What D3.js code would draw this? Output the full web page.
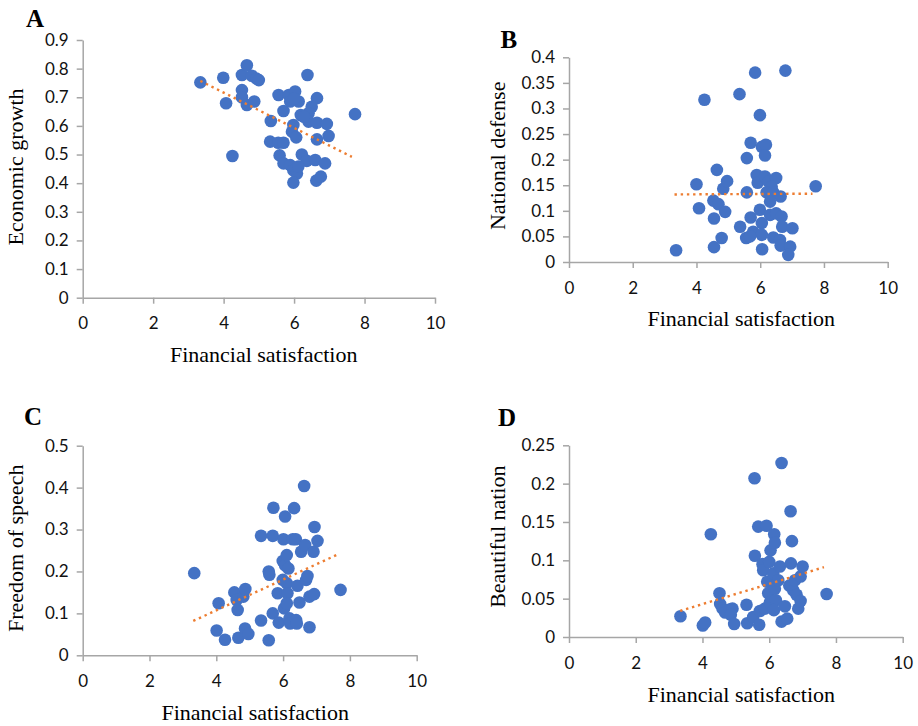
<!DOCTYPE html>
<html><head><meta charset="utf-8">
<script src="https://cdn.jsdelivr.net/npm/d3@7/dist/d3.min.js"></script>
<style>body{margin:0;background:#fff}svg{display:block}</style>
</head><body>
<svg id="c" width="918" height="726"></svg>
<script>
// ---------- DATA ----------
const xTicks = [0, 2, 4, 6, 8, 10];
const yTicksA = [0, 0.1, 0.2, 0.3, 0.4, 0.5, 0.6, 0.7, 0.8, 0.9];
const yTicksB = [0, 0.05, 0.1, 0.15, 0.2, 0.25, 0.3, 0.35, 0.4];
const yTicksC = [0, 0.1, 0.2, 0.3, 0.4, 0.5];
const yTicksD = [0, 0.05, 0.1, 0.15, 0.2, 0.25];

const xA = [3.34,3.99,4.07,4.25,4.52,4.66,4.80,4.93,5.00,4.52,4.52,4.66,4.87,5.56,5.34,5.70,5.85,6.03,6.13,5.89,6.38,6.65,6.50,6.41,6.19,5.98,5.94,6.06,6.41,6.65,6.93,6.98,6.65,7.73,5.32,5.55,5.70,5.59,5.70,5.89,5.98,6.08,5.98,6.22,6.36,6.12,6.60,6.88,6.63,6.76,6.28,6.00];
const yA = [0.752,0.768,0.679,0.495,0.778,0.812,0.775,0.765,0.760,0.725,0.700,0.673,0.685,0.708,0.617,0.652,0.708,0.720,0.685,0.685,0.778,0.697,0.667,0.644,0.638,0.603,0.580,0.560,0.615,0.611,0.607,0.565,0.553,0.641,0.545,0.541,0.541,0.497,0.469,0.463,0.445,0.434,0.402,0.500,0.478,0.458,0.481,0.469,0.409,0.423,0.632,0.695];
const trendA = [[3.34, 0.757], [7.64, 0.492]];

const xB = [3.36,4.00,4.08,4.25,4.53,4.55,4.55,4.64,4.69,4.79,4.84,4.90,4.96,5.35,5.37,5.58,5.58,5.56,5.70,5.70,5.84,5.89,5.92,5.99,6.05,6.18,6.15,6.15,6.26,6.50,6.36,6.20,6.41,6.64,6.31,5.99,6.31,6.50,6.67,6.05,5.78,6.05,5.68,6.41,6.62,6.64,6.69,7.01,6.94,6.88,6.06,6.79,7.74];
const yB = [0.023,0.152,0.105,0.317,0.120,0.085,0.029,0.180,0.113,0.047,0.143,0.098,0.158,0.328,0.069,0.203,0.136,0.047,0.233,0.087,0.370,0.170,0.155,0.287,0.225,0.229,0.208,0.167,0.157,0.164,0.147,0.136,0.136,0.128,0.118,0.102,0.092,0.095,0.089,0.076,0.059,0.053,0.050,0.048,0.043,0.032,0.069,0.066,0.030,0.014,0.025,0.374,0.148];
const trendB = [[3.31, 0.132], [7.64, 0.1335]];

const xC = [3.34,4.01,4.07,4.26,4.54,4.61,4.64,4.66,4.81,4.87,4.86,4.96,5.34,5.34,5.57,5.59,5.57,5.69,5.71,5.69,5.84,5.87,5.99,6.01,5.99,6.03,6.06,6.06,6.11,6.16,6.11,6.13,6.11,6.19,6.21,6.29,6.33,6.38,6.39,6.41,6.43,6.49,6.54,6.63,6.66,6.69,6.73,6.79,6.79,6.91,6.94,6.93,7.03,7.72];
const yC = [0.196,0.059,0.124,0.037,0.150,0.132,0.108,0.042,0.140,0.158,0.064,0.051,0.083,0.285,0.200,0.192,0.036,0.285,0.352,0.100,0.148,0.078,0.225,0.277,0.180,0.112,0.331,0.215,0.239,0.207,0.172,0.148,0.124,0.088,0.076,0.277,0.351,0.277,0.084,0.076,0.166,0.126,0.247,0.404,0.263,0.180,0.189,0.140,0.067,0.247,0.306,0.146,0.273,0.156];
const trendC = [[3.31, 0.082], [7.62, 0.240]];

const xD = [3.34,4.01,4.08,4.25,4.51,4.53,4.60,4.68,4.83,4.90,4.85,4.95,5.32,5.34,5.52,5.56,5.57,5.67,5.70,5.72,5.80,5.82,5.92,5.94,5.97,6.00,5.87,6.02,6.04,6.12,6.15,6.17,6.17,6.20,6.14,6.27,6.32,6.37,6.37,6.47,6.54,6.60,6.64,6.65,6.68,6.72,6.77,6.82,6.87,6.94,6.94,7.00,7.72];
const yD = [0.027,0.015,0.019,0.134,0.057,0.043,0.037,0.032,0.036,0.037,0.029,0.017,0.042,0.018,0.026,0.207,0.106,0.144,0.016,0.034,0.095,0.087,0.145,0.072,0.057,0.098,0.037,0.045,0.113,0.083,0.134,0.123,0.063,0.048,0.035,0.074,0.092,0.227,0.020,0.040,0.024,0.067,0.164,0.096,0.125,0.061,0.074,0.055,0.037,0.047,0.079,0.092,0.056];
const trendD = [[3.33, 0.034], [7.64, 0.091]];

const xTitle = "Financial satisfaction";

// ---------- LAYOUT ----------
const panels = [
  {letter:"A", xs:xA, ys:yA, trend:trendA, yTicks:yTicksA, yTitle:"Economic growth",
   px:[82.7,435], py:[297.7,40], letterPos:[26,27], xTitlePos:[263.7,361.7], yTitlePos:[23,167]},
  {letter:"B", xs:xB, ys:yB, trend:trendB, yTicks:yTicksB, yTitle:"National defense",
   px:[569,887.7], py:[262,57.3], letterPos:[500.5,48], xTitlePos:[741.3,326], yTitlePos:[504.8,155.8]},
  {letter:"C", xs:xC, ys:yC, trend:trendC, yTicks:yTicksC, yTitle:"Freedom of speech",
   px:[82.7,416.7], py:[655.3,445.7], letterPos:[24,425], xTitlePos:[255.2,720], yTitlePos:[23,548.3]},
  {letter:"D", xs:xD, ys:yD, trend:trendD, yTicks:yTicksD, yTitle:"Beautiful nation",
   px:[569,902.7], py:[637,445.3], letterPos:[498,425.7], xTitlePos:[741.3,702], yTitlePos:[504.8,536.7]}
];

const svg = d3.select("#c");
const AX = "#a6a6a6", DOT = "#4472c4", TREND = "#ed7d31";
const serif = "'Liberation Serif','Times New Roman',serif";
const sans = "Lato,'Liberation Sans',sans-serif";

panels.forEach(p => {
  const yMax = p.yTicks[p.yTicks.length - 1];
  const x = d3.scaleLinear().domain([0, 10]).range(p.px);
  const y = d3.scaleLinear().domain([0, yMax]).range(p.py);
  const g = svg.append("g");

  const gx = g.append("g").attr("transform", `translate(0,${p.py[0]})`)
    .call(d3.axisBottom(x).tickValues(xTicks).tickSize(6).tickSizeOuter(0).tickPadding(13.5).tickFormat(d3.format("d")));
  const gy = g.append("g").attr("transform", `translate(${p.px[0]},0)`)
    .call(d3.axisLeft(y).tickValues(p.yTicks).tickSize(6).tickSizeOuter(0).tickPadding(8).tickFormat(d => String(d)));
  [gx, gy].forEach(a => {
    a.attr("font-family", sans).attr("font-size", 17);
    a.selectAll("path,line").attr("stroke", AX).attr("stroke-width", 1.5);
    a.selectAll("text").attr("fill", "#111");
  });

  g.append("g").selectAll("circle").data(p.xs.map((v, i) => [v, p.ys[i]])).join("circle")
    .attr("cx", d => x(d[0])).attr("cy", d => y(d[1])).attr("r", 6.3).attr("fill", DOT);

  g.append("path").datum(p.trend)
    .attr("d", d3.line().x(d => x(d[0])).y(d => y(d[1])))
    .attr("fill", "none").attr("stroke", TREND).attr("stroke-width", 2.4)
    .attr("stroke-dasharray", "2.4,3.8");

  g.append("text").attr("x", p.letterPos[0]).attr("y", p.letterPos[1])
    .attr("font-family", serif).attr("font-weight", "bold").attr("font-size", 25).text(p.letter);
  g.append("text").attr("x", p.xTitlePos[0]).attr("y", p.xTitlePos[1]).attr("text-anchor", "middle")
    .attr("font-family", serif).attr("font-size", 22).text(xTitle);
  g.append("text").attr("transform", `translate(${p.yTitlePos[0]},${p.yTitlePos[1]}) rotate(-90)`)
    .attr("text-anchor", "middle").attr("font-family", serif).attr("font-size", 22).text(p.yTitle);
});
</script>
</body></html>
